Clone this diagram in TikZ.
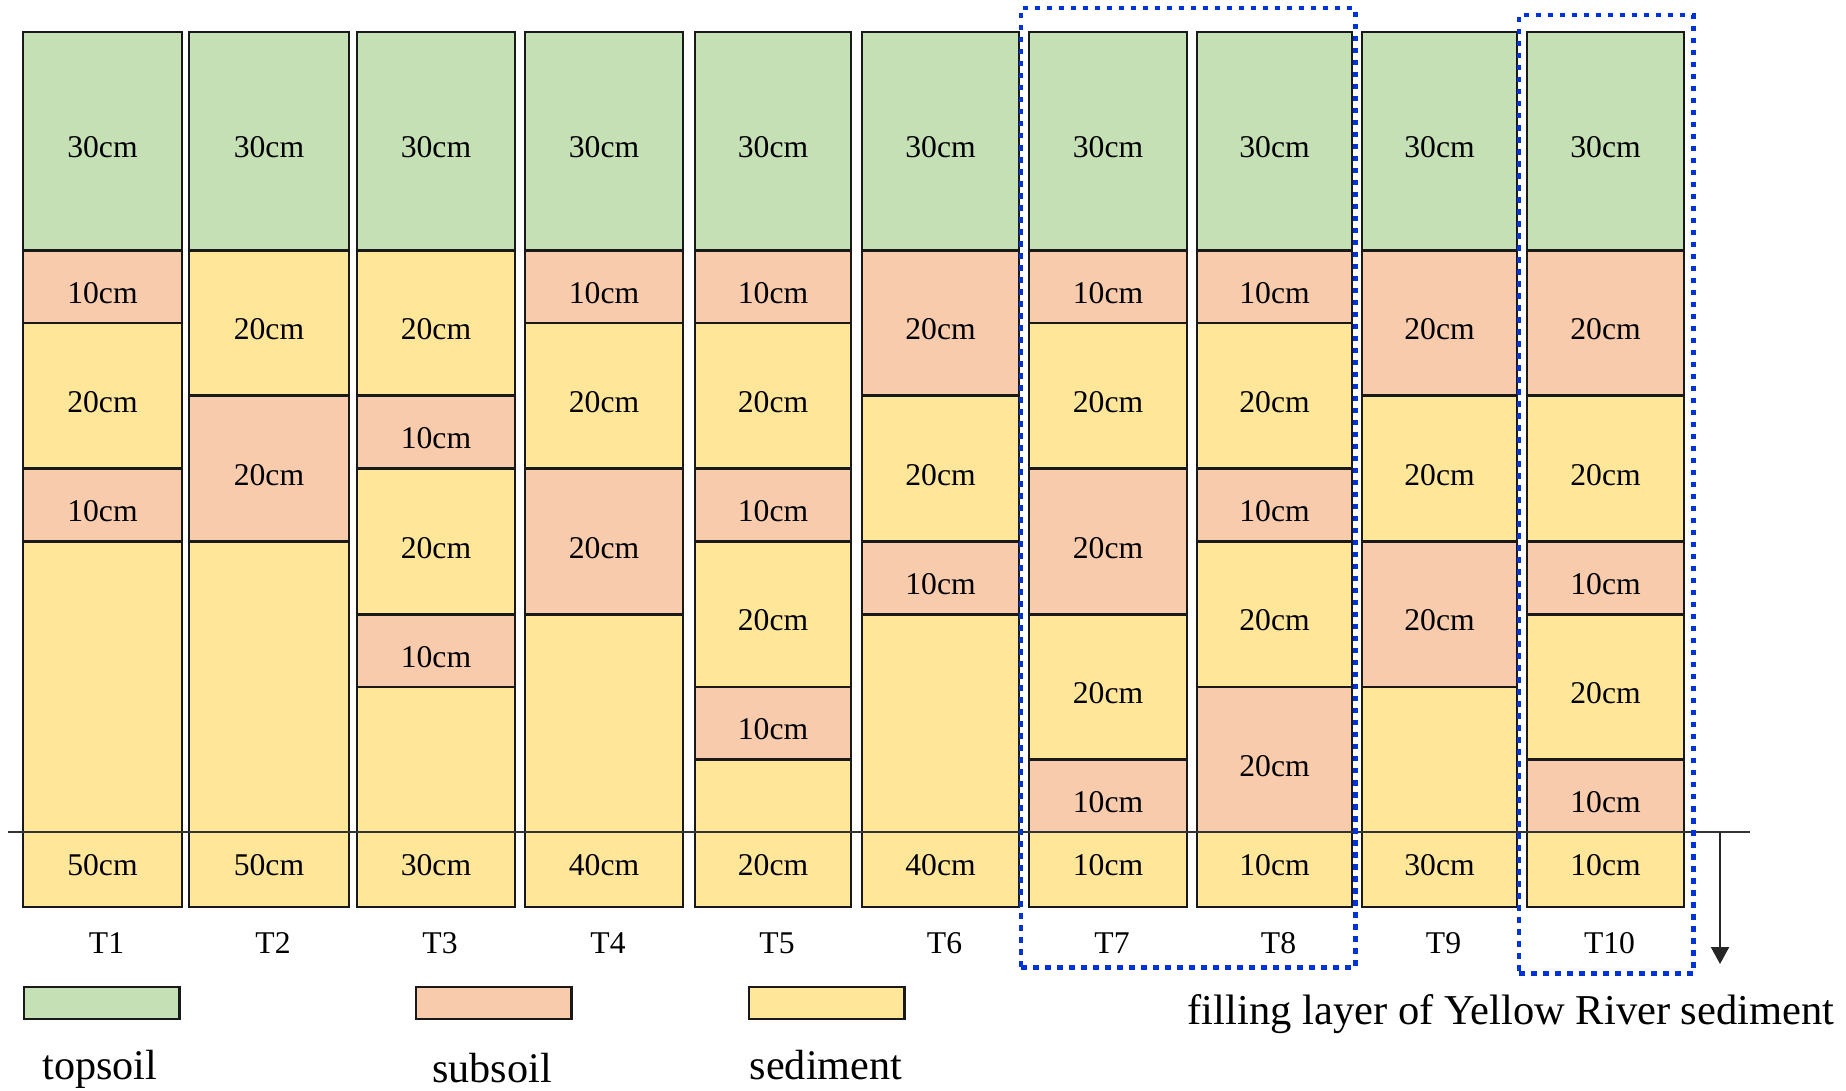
\documentclass[tikz,border=0pt]{standalone}
\usepackage{fontspec}
\setmainfont{Liberation Serif}
\usetikzlibrary{calc,arrows.meta}
\definecolor{cT}{RGB}{197,224,180}
\definecolor{cS}{RGB}{248,203,173}
\definecolor{cD}{RGB}{255,230,153}
\definecolor{cB}{RGB}{0,51,214}
\begin{document}
\begin{tikzpicture}[x=0.01cm,y=-0.01cm,
  lay/.style={draw=black!90, line width=0.8pt, rectangle, inner sep=0pt, outer sep=0pt, anchor=north west, font=\fontsize{9}{10}\selectfont},
  laytext/.style={text height=9.5pt, text depth=0pt},
  bottext/.style={text height=6.2pt, text depth=3pt},
  tlab/.style={font=\fontsize{9}{10}\selectfont, inner sep=0pt},
  leg/.style={draw=black!90, line width=0.8pt, rectangle, inner sep=0pt, outer sep=0pt, anchor=north west, minimum width=1.555cm, minimum height=0.32cm},
  legtxt/.style={font=\fontsize{12}{14}\selectfont, inner sep=0pt, anchor=base},
  dotbox/.style={draw=cB, line width=1.35pt, dash pattern=on 0.055cm off 0.065cm, rectangle, inner sep=0pt, outer sep=0pt, anchor=north west}]
\useasboundingbox (0,0) rectangle (1846,1090);

\foreach \cc/\xx/\ww/\LL/\bb in {
 1/23/159/{S/10/10cm,D/20/20cm,S/10/10cm,D/40/{}}/50cm,
 2/189/160/{D/20/20cm,S/20/20cm,D/40/{}}/50cm,
 3/357/158/{D/20/20cm,S/10/10cm,D/20/20cm,S/10/10cm,D/20/{}}/30cm,
 4/525/158/{S/10/10cm,D/20/20cm,S/20/20cm,D/30/{}}/40cm,
 5/695/156/{S/10/10cm,D/20/20cm,S/10/10cm,D/20/20cm,S/10/10cm,D/10/{}}/20cm,
 6/862/157/{S/20/20cm,D/20/20cm,S/10/10cm,D/30/{}}/40cm,
 7/1029/158/{S/10/10cm,D/20/20cm,S/20/20cm,D/20/20cm,S/10/10cm}/10cm,
 8/1197/155/{S/10/10cm,D/20/20cm,S/10/10cm,D/20/20cm,S/20/20cm}/10cm,
 9/1362/155/{S/20/20cm,D/20/20cm,S/20/20cm,D/20/{}}/30cm,
 10/1527/157/{S/20/20cm,D/20/20cm,S/10/10cm,D/20/20cm,S/10/10cm}/10cm}{
  \node[lay, laytext, fill=cT, minimum width=\ww*0.01cm, minimum height=30*0.07273cm] (c\cc-0) at (\xx,32) {30cm};
  \foreach \ty/\hh/\lb [count=\jj] in \LL {
    \pgfmathtruncatemacro{\pj}{\jj-1}
    \node[lay, laytext, fill=c\ty, minimum width=\ww*0.01cm, minimum height=\hh*0.07273cm] (c\cc-\jj) at (c\cc-\pj.south west) {\lb};
  }
  \node[lay, bottext, fill=cD, minimum width=\ww*0.01cm, minimum height=0.75cm] (b\cc) at (\xx,832) {\bb};
  \node[tlab] (n\cc) at ($(b\cc.south)+(4,36)$) {T\cc};
}

\coordinate (hL) at (8,832);
\coordinate (hR) at (1750,832);
\draw[line width=0.6pt, black!80] (hL) -- (hR);
\coordinate (aS) at (1720,832);
\coordinate (aE) at (1720,964);
\draw[line width=0.6pt, black!85, -{Triangle[length=0.17cm,width=0.18cm]}] (aS) -- (aE);

\node[dotbox, minimum width=3.34cm, minimum height=9.59cm] (g1) at (1021,8) {};
\node[dotbox, minimum width=1.74cm, minimum height=9.58cm] (g2) at (1519,15) {};

\node[leg, fill=cT] (lg1) at (24,987) {};
\node[leg, fill=cS] (lg2) at (416,987) {};
\node[leg, fill=cD] (lg3) at (749,987) {};
\node[legtxt] (lt1) at (100,1079) {topsoil};
\node[legtxt] (lt2) at (492,1082) {subsoil};
\node[legtxt] (lt3) at (826,1079) {sediment};
\node[legtxt, anchor=base west, font=\fontsize{12.1}{14}\selectfont] (ft) at (1187,1024) {filling layer of Yellow River sediment};
\end{tikzpicture}
\end{document}
